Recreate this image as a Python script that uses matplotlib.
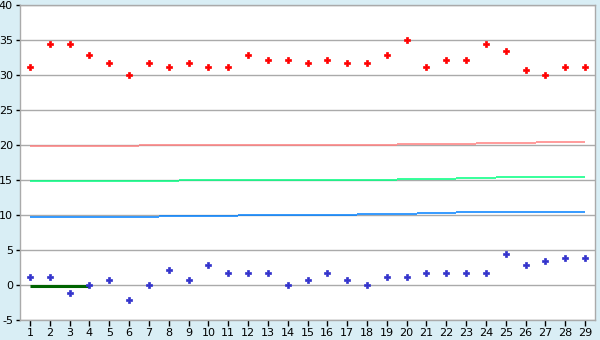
import matplotlib
matplotlib.use("Agg")
import matplotlib.pyplot as plt

plt.rcParams["axes.unicode_minus"] = False

# -------------------------------
# data
days = list(range(1, 30))
upper_vals = [31.1, 34.4, 34.4, 32.8, 31.7, 30.0, 31.7, 31.1, 31.7, 31.1,
              31.1, 32.8, 32.2, 32.2, 31.7, 32.2, 31.7, 31.7, 32.8, 35.0,
              31.1, 32.2, 32.2, 34.4, 33.4, 30.7, 30.0, 31.1, 31.1]
lower_vals = [1.1, 1.1, -1.1, 0.0, 0.7, -2.2, 0.0, 2.2, 0.7, 2.8,
              1.7, 1.7, 1.7, 0.0, 0.7, 1.7, 0.7, 0.0, 1.1, 1.1,
              1.7, 1.7, 1.7, 1.7, 4.4, 2.8, 3.4, 3.9, 3.9]

# step levels: start, end, value
red_start = [1, 6.5, 19.5, 23.5, 26.5]
red_end = [6.5, 19.5, 23.5, 26.5, 29]
red_level = [19.8, 20.0, 20.1, 20.25, 20.4]

green_start = [1, 8.5, 19.5, 22.5, 24.5]
green_end = [8.5, 19.5, 22.5, 24.5, 29]
green_level = [14.85, 15.0, 15.15, 15.3, 15.4]

blue_start = [1, 7.5, 11.5, 17.5, 20.5, 22.5, 27.5]
blue_end = [7.5, 11.5, 17.5, 20.5, 22.5, 27.5, 29]
blue_level = [9.7, 9.85, 10.0, 10.1, 10.25, 10.4, 10.5]

base_start = [1]
base_end = [4]
base_level = [-0.1]

# -------------------------------
bg = "#d9eef5"
grid_c = "#aaaaaa"

fig = plt.figure(figsize=(6, 3.4), dpi=100, facecolor=bg)
ax = fig.add_axes([20 / 600, 20 / 340, 575 / 600, 315 / 340])
ax.set_facecolor("white")

for y in range(-5, 41, 5):
    ax.axhline(y, color=grid_c, lw=1.0, zorder=1)

ax.hlines(red_level, red_start, red_end, color="#ff8080", lw=1.1, zorder=2)
ax.hlines(green_level, green_start, green_end, color="#00ff80", lw=1.1, zorder=2)
ax.hlines(blue_level, blue_start, blue_end, color="#0080ff", lw=1.1, zorder=2)
ax.hlines(base_level, base_start, base_end, color="#006400", lw=2.2, zorder=2)

ax.plot(days, upper_vals, ls="none", marker="P", ms=5, color="#ff0000",
        mec="#ff0000", mew=0.5, zorder=3)
ax.plot(days, lower_vals, ls="none", marker="P", ms=5, color="#3333cc",
        mec="#3333cc", mew=0.5, zorder=3)

ax.set_xlim(0.5, 29.5)
ax.set_ylim(-5, 40)
ax.set_xticks(days)
ax.set_yticks(range(-5, 41, 5))
ax.tick_params(axis="both", labelsize=8, colors="black", length=4, width=1, pad=2)
ax.tick_params(axis="y", length=3, pad=2)

for side in ["left", "right", "top", "bottom"]:
    ax.spines[side].set_color(grid_c)
    ax.spines[side].set_linewidth(1.0)

fig.savefig("out.png", dpi=100, facecolor=bg)
